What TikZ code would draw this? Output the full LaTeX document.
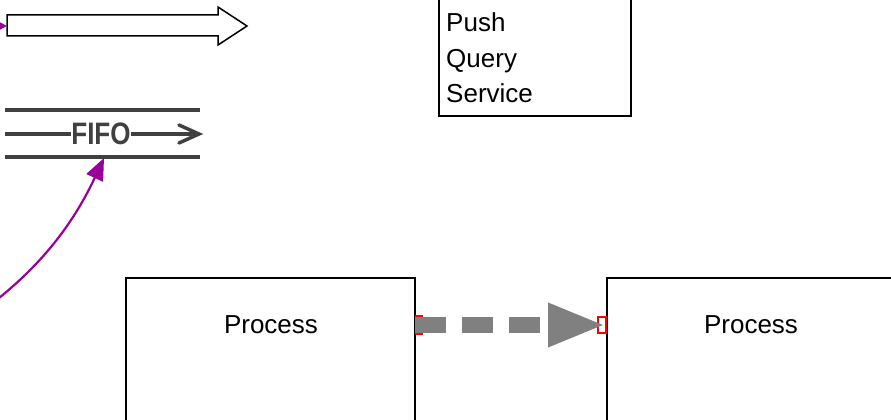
\documentclass[tikz,border=0pt]{standalone}
\usepackage{fontspec}
\setmainfont{Liberation Sans}
\usetikzlibrary{arrows.meta}
\definecolor{fifogray}{HTML}{404040}
\definecolor{purp}{HTML}{990099}
\definecolor{dgray}{HTML}{808080}
\begin{document}
\begin{tikzpicture}[x=1pt,y=-1pt,
  fifoline/.style={draw=fifogray,line width=3.5pt},
  lbl/.style={font=\fontsize{26}{35}\selectfont}]
\useasboundingbox (0,0) rectangle (891,420);
% block arrow
\draw[line width=1.5pt] (7,15) -- (218,15) -- (218,7) -- (247,26) -- (218,45) -- (218,36) -- (7,36) -- cycle;
\coordinate (baw) at (7,26);
\coordinate (bain) at (-12,26);
\draw[purp,line width=2pt,-{Triangle[length=9pt,width=9pt]}] (bain) -- (baw);
% FIFO
\draw[fifoline] (5,110) -- (200,110);
\draw[fifoline] (5,157) -- (200,157);
\node[text=fifogray,font=\fontsize{31}{31}\selectfont\bfseries,inner sep=0pt] (fifo) at (101,134) {\scalebox{0.84}[1]{FIFO}};
\coordinate (fl) at (5,134);
\coordinate (fr) at (199,134);
\draw[fifoline] (fl) -- (fifo.west);
\draw[fifoline] (fifo.east) -- (fr);
\draw[fifoline,line cap=round,line join=miter] (179,125) -- (fr) -- (179,143);
% magenta curve
\coordinate (cs) at (-6,302);
\coordinate (ce) at (104,158);
\draw[purp,line width=2.2pt,-{Triangle[length=22pt,width=18pt]}] (cs) .. controls (45,262) and (75,220) .. (ce);
% PQS box
\draw[line width=1.5pt,fill=white] (439,-20) rectangle (631,116);
\node[lbl,anchor=base west,inner sep=0pt] (push) at (446,32) {Push};
\node[lbl,anchor=base west,inner sep=0pt] (query) at (446,67) {Query};
\node[lbl,anchor=base west,inner sep=0pt] (serv) at (446,102) {Service};
% process boxes
\draw[line width=1.5pt] (126,278) rectangle (415,440);
\draw[line width=1.5pt] (607,278) rectangle (900,440);
\node[lbl] (p1) at (271,325) {Process};
\node[lbl] (p2) at (751,325) {Process};
\coordinate (a1) at (415,325);
\coordinate (a2) at (606,325);
% red markers
\draw[red,line width=2.5pt] (416,316) rectangle (422,334);
\draw[red,line width=2.5pt] (598,317) rectangle (606,333);
% dashed connector
\draw[dgray,line width=16pt,dash pattern=on 31pt off 16pt,-{Triangle[length=58pt,width=40pt,sep=0pt]}] (a1) -- (a2);
\end{tikzpicture}
\end{document}
